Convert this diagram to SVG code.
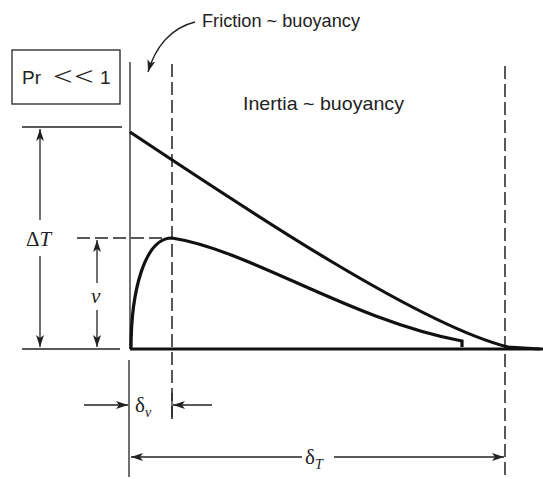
<svg xmlns="http://www.w3.org/2000/svg" width="543" height="479" viewBox="0 0 543 479">
<defs>
<style>
.thin{stroke:#222;stroke-width:1.3;fill:none}
.dash{stroke:#222;stroke-width:1.5;fill:none;stroke-dasharray:13,5}
.thick{stroke:#111;stroke-width:3.2;fill:none;stroke-linecap:butt}
.lbl{font-family:"Liberation Sans",Arial,sans-serif;font-size:18.5px;fill:#222}
.lt{font-family:Lato,"Open Sans","Liberation Sans",sans-serif;font-weight:300;font-size:32px;fill:#222}
.math{font-family:"Liberation Serif","Times New Roman",serif;font-size:21px;fill:#222}
</style>
<marker id="ah" viewBox="0 0 12 8" refX="12" refY="4" markerWidth="12" markerHeight="8" markerUnits="userSpaceOnUse" orient="auto-start-reverse">
<path d="M0,0 L12,4 L0,8 L3,4 Z" fill="#222"/>
</marker>
</defs>
<rect width="543" height="479" fill="#fff"/>
<g id="pr-box">
<rect x="12" y="50" width="108" height="54" fill="none" stroke="#222" stroke-width="1.3"/>
<text class="lbl" x="22" y="84" style="font-size:19px">Pr</text>
<text class="lt" transform="translate(51,87) scale(1.35,1)" x="0" y="0" letter-spacing="-3">&lt;&lt;</text>
<text class="lbl" x="100" y="84" style="font-size:19px">1</text>
</g>
<g id="labels">
<text class="lbl" x="202" y="27" textLength="158" lengthAdjust="spacingAndGlyphs">Friction ~ buoyancy</text>
<text class="lbl" x="243" y="110" textLength="161" lengthAdjust="spacingAndGlyphs">Inertia ~ buoyancy</text>
</g>
<g id="connectors">
<line class="thin" x1="130" y1="62" x2="130" y2="349"/>
<line class="dash" x1="172" y1="64" x2="172" y2="420"/>
<line class="dash" x1="505" y1="66" x2="505" y2="479"/>
<line class="thick" x1="130" y1="349" x2="543" y2="349"/>
<line class="thin" x1="22" y1="127" x2="122" y2="127"/>
<line class="thin" x1="22" y1="349" x2="120" y2="349"/>
<line class="dash" x1="77" y1="238" x2="172" y2="238"/>
<line class="thin" x1="40" y1="129" x2="40" y2="220" marker-start="url(#ah)"/>
<line class="thin" x1="40" y1="256" x2="40" y2="347" marker-end="url(#ah)"/>
<line class="thin" x1="97" y1="240" x2="97" y2="283" marker-start="url(#ah)"/>
<line class="thin" x1="97" y1="310" x2="97" y2="347" marker-end="url(#ah)"/>
<line class="thin" x1="129" y1="360" x2="129" y2="477"/>
<line class="thin" x1="172" y1="393" x2="172" y2="417"/>
<line class="thin" x1="84" y1="405" x2="128" y2="405" marker-end="url(#ah)"/>
<line class="thin" x1="212" y1="405" x2="173" y2="405" marker-end="url(#ah)"/>
<line class="thin" x1="131" y1="457" x2="302" y2="457" marker-start="url(#ah)"/>
<line class="thin" x1="334" y1="457" x2="504" y2="457" marker-end="url(#ah)"/>
<path class="thin" d="M195,22 C170,28 155,48 148,72" marker-end="url(#ah)"/>
<path id="temp" class="thick" d="M130,132 C250,212 420,325 508,347 L540,349"/>
<path id="vel" class="thick" d="M131,349 C131,290 145,238 172,238 C250,250 350,320 462,341 L462,347"/>
</g>
<g id="dim-labels">
<text class="math" x="26" y="246">Δ<tspan font-style="italic">T</tspan></text>
<text class="math" x="91" y="303" font-style="italic">v</text>
<text class="math" x="135" y="412">δ<tspan font-style="italic" font-size="14" dy="5">v</tspan></text>
<text class="math" x="305" y="464">δ<tspan font-style="italic" font-size="14" dy="5">T</tspan></text>
</g>
</svg>
